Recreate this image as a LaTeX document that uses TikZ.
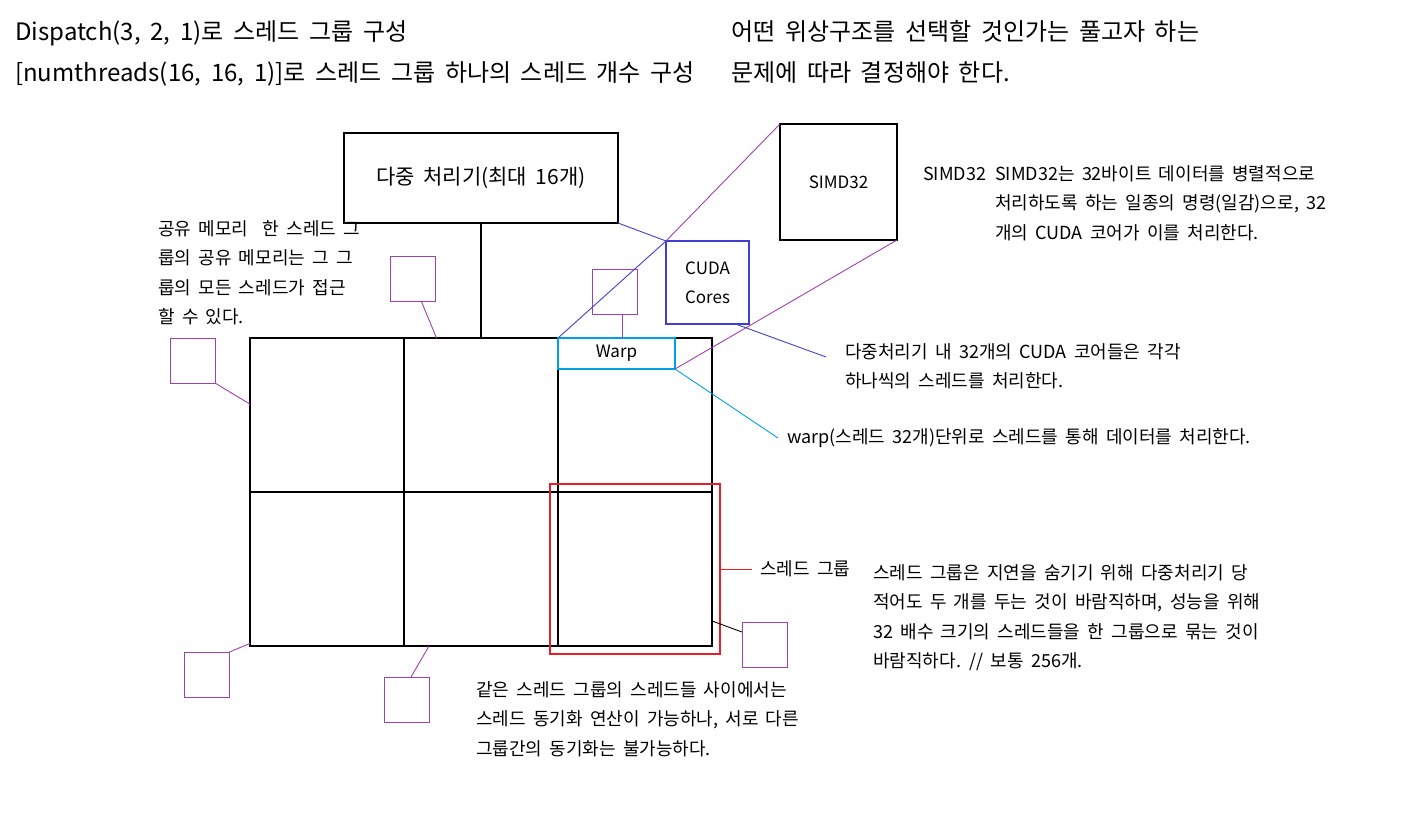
\documentclass[tikz,border=0pt]{standalone}
\usepackage{fontspec}
\setmainfont{Noto Sans CJK KR}[WordSpace=1.8]
\usetikzlibrary{positioning}
\definecolor{simdpurple}{RGB}{160,64,176}
\definecolor{coreblue}{RGB}{64,64,208}
\definecolor{warpcyan}{RGB}{0,160,230}
\definecolor{groupred}{RGB}{230,30,40}
\tikzstyle{cell} = [rectangle, draw=black, line width=1.2pt, minimum width=154pt, minimum height=154pt, inner sep=0pt, outer sep=0pt]
\tikzstyle{memo} = [rectangle, draw=simdpurple, line width=1pt, minimum width=45pt, minimum height=45pt, inner sep=0pt, outer sep=0pt]
\tikzstyle{procbox} = [rectangle, draw=black, line width=1.2pt, minimum width=274pt, minimum height=90pt, outer sep=0pt, font=\fontsize{21}{24}\selectfont]
\tikzstyle{simdbox} = [rectangle, draw=black, line width=1.2pt, minimum width=117pt, minimum height=116pt, outer sep=0pt, font=\fontsize{17}{20}\selectfont]
\tikzstyle{corebox} = [rectangle, draw=coreblue, line width=1.2pt, minimum width=83pt, minimum height=83pt, outer sep=0pt, align=center, font=\fontsize{17}{29}\selectfont]
\tikzstyle{warpbox} = [rectangle, draw=warpcyan, line width=1.2pt, minimum width=117pt, minimum height=31pt, inner sep=0pt, outer sep=0pt, font=\fontsize{17}{20}\selectfont]
\tikzstyle{groupbox} = [rectangle, draw=groupred, line width=1.2pt, minimum width=170pt, minimum height=170pt, outer sep=0pt]
\tikzstyle{note} = [align=left, inner sep=0pt, anchor=north west, font=\fontsize{18}{29.5}\selectfont]
\tikzstyle{oneline} = [inner sep=0pt, anchor=west, font=\fontsize{18}{20}\selectfont]
\tikzstyle{title} = [align=left, inner sep=0pt, anchor=north west, font=\fontsize{24}{41}\selectfont]
\tikzstyle{link} = [line width=0.9pt]

\begin{document}
\begin{tikzpicture}[x=1pt, y=-1pt]

    \useasboundingbox (0,0) rectangle (1424,830);

    \node (head1) [title] at (15,20) {Dispatch(3, 2, 1)로 스레드 그룹 구성\\{[}numthreads(16, 16, 1){]}로 스레드 그룹 하나의 스레드 개수 구성};

    \node (head2) [title] at (731,20) {어떤 위상구조를 선택할 것인가는 풀고자 하는\\문제에 따라 결정해야 한다.};

    \node (c11) [cell] at (327,415) {};
    \node (c12) [cell, right=0pt of c11] {};
    \node (c13) [cell, right=0pt of c12] {};
    \node (c21) [cell, below=0pt of c11] {};
    \node (c22) [cell, right=0pt of c21] {};
    \node (c23) [cell, right=0pt of c22] {};

    \node (proc) [procbox, above=115pt of c12] {다중 처리기(최대 16개)};

    \node (warp) [warpbox, anchor=north west] at (c13.north west) {Warp};

    \node (cuda) [corebox] at (707.5,282.5) {CUDA\\Cores};

    \node (simd) [simdbox] at (838.5,182) {SIMD32};

    \node (grp) [groupbox] at (c23.center) {};

    \node (m1) [memo] at (413,278.5) {};
    \node (m2) [memo] at (192.5,360.5) {};
    \node (m3) [memo] at (614.5,291.5) {};
    \node (m4) [memo] at (207,674.5) {};
    \node (m5) [memo] at (407,699.5) {};
    \node (m6) [memo] at (764.5,644.5) {};

    \node (sharenote) [note] at (158,220) {공유 메모리\ \ 한 스레드 그\\룹의 공유 메모리는 그 그\\룹의 모든 스레드가 접근\\할 수 있다.};

    \node (simdtag) [oneline] at (923,174) {SIMD32};

    \node (simdnote) [note] at (995,165) {SIMD32는 32바이트 데이터를 병렬적으로\\처리하도록 하는 일종의 명령(일감)으로, 32\\개의 CUDA 코어가 이를 처리한다.};

    \node (corenote) [note] at (845,343) {다중처리기 내 32개의 CUDA 코어들은 각각\\하나씩의 스레드를 처리한다.};

    \node (warpnote) [oneline] at (787,438) {warp(스레드 32개)단위로 스레드를 통해 데이터를 처리한다.};

    \node (grplabel) [oneline, right=40pt of grp] {스레드 그룹};

    \node (grpnote) [note] at (873,564) {스레드 그룹은 지연을 숨기기 위해 다중처리기 당\\적어도 두 개를 두는 것이 바람직하며, 성능을 위해\\32 배수 크기의 스레드들을 한 그룹으로 묶는 것이\\바람직하다. // 보통 256개.};

    \node (syncnote) [note] at (476,681) {같은 스레드 그룹의 스레드들 사이에서는\\스레드 동기화 연산이 가능하나, 서로 다른\\그룹간의 동기화는 불가능하다.};

    \draw[link, line width=1.2pt] (proc.south) -- (c12.north);
    \draw[link, coreblue] (proc.south east) -- (cuda.north west);
    \draw[link, coreblue] (cuda.north west) -- (warp.north west);
    \draw[link, simdpurple] (simd.north west) -- (cuda.north west);
    \draw[link, simdpurple] (simd.south east) -- (warp.south east);
    \draw[link, warpcyan] (warp.south east) -- ([xshift=-9pt]warpnote.west);
    \draw[link, coreblue] (cuda.-56) -- ([shift={(-19,14)}]corenote.north west);
    \draw[link, groupred] (grp.east) -- ([xshift=-8pt]grplabel.west);
    \draw[link, simdpurple] (m1.-70) -- (c12.120);
    \draw[link, simdpurple] (m2.south east) -- (c11.172);
    \draw[link, simdpurple] (m3.-70) -- (m3.-70 |- warp.north);
    \draw[link, simdpurple] (m4.north east) -- (c21.224);
    \draw[link, simdpurple] (m5.80) -- (c22.236);
    \draw[link] (c23.-34.5) -- (m6.151);

\end{tikzpicture}
\end{document}
